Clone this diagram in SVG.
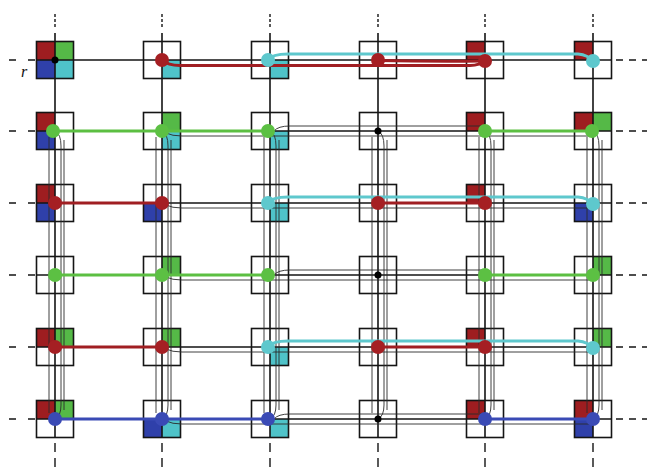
<svg xmlns="http://www.w3.org/2000/svg" width="647" height="468" viewBox="0 0 647 468">
<style>
.qr{fill:#9e1d20}.qg{fill:#55b947}.qb{fill:#2f40aa}.qc{fill:#4fc3c9}
.box{fill:none;stroke:#151515;stroke-width:1.6}
.main{stroke:#151515;stroke-width:1.6;fill:none}
.dash{stroke:#151515;stroke-width:1.6;fill:none;stroke-dasharray:7 6}
.ldash{stroke:#151515;stroke-width:1.6;fill:none;stroke-dasharray:7 12}
.vdash{stroke:#151515;stroke-width:1.4;fill:none;stroke-dasharray:3 2}
.bdash{stroke:#151515;stroke-width:1.4;fill:none;stroke-dasharray:9 6}
.thin{stroke:#2a2a2a;stroke-width:0.9;fill:none}
.cr{stroke:#a01e22;stroke-width:3;fill:none}
.cg{stroke:#5cbf42;stroke-width:3;fill:none}
.cc{stroke:#5ec8cd;stroke-width:3;fill:none}
.cb{stroke:#3a4ab5;stroke-width:3;fill:none}
.dr{fill:#a51f23}.dg{fill:#5cc043}.dc{fill:#5ec8cd}.db{fill:#3a4ab5}.dk{fill:#000}
.lbl{font-family:"Liberation Serif",serif;font-style:italic;font-size:16px;fill:#111}
</style>
<rect width="647" height="468" fill="#fff"/>
<g id="nodes">
<g id="n-1-1"><rect class="qr" x="36.5" y="41.5" width="18.5" height="18.5"/><rect class="qg" x="55" y="41.5" width="18.5" height="18.5"/><rect class="qb" x="36.5" y="60" width="18.5" height="18.5"/><rect class="qc" x="55" y="60" width="18.5" height="18.5"/><rect class="box" x="36.5" y="41.5" width="37" height="37"/></g>
<g id="n-1-2"><rect class="qc" x="162" y="60" width="18.5" height="18.5"/><rect class="box" x="143.5" y="41.5" width="37" height="37"/></g>
<g id="n-1-3"><rect class="qc" x="270" y="60" width="18.5" height="18.5"/><rect class="box" x="251.5" y="41.5" width="37" height="37"/></g>
<g id="n-1-4"><rect class="box" x="359.5" y="41.5" width="37" height="37"/></g>
<g id="n-1-5"><rect class="qr" x="466.5" y="41.5" width="18.5" height="18.5"/><rect class="box" x="466.5" y="41.5" width="37" height="37"/></g>
<g id="n-1-6"><rect class="qr" x="574.5" y="41.5" width="18.5" height="18.5"/><rect class="box" x="574.5" y="41.5" width="37" height="37"/></g>

<g id="n-2-1"><rect class="qr" x="36.5" y="112.5" width="18.5" height="18.5"/><rect class="qb" x="36.5" y="131" width="18.5" height="18.5"/><rect class="box" x="36.5" y="112.5" width="37" height="37"/></g>
<g id="n-2-2"><rect class="qg" x="162" y="112.5" width="18.5" height="18.5"/><rect class="qc" x="162" y="131" width="18.5" height="18.5"/><rect class="box" x="143.5" y="112.5" width="37" height="37"/></g>
<g id="n-2-3"><rect class="qc" x="270" y="131" width="18.5" height="18.5"/><rect class="box" x="251.5" y="112.5" width="37" height="37"/></g>
<g id="n-2-4"><rect class="box" x="359.5" y="112.5" width="37" height="37"/></g>
<g id="n-2-5"><rect class="qr" x="466.5" y="112.5" width="18.5" height="18.5"/><rect class="box" x="466.5" y="112.5" width="37" height="37"/></g>
<g id="n-2-6"><rect class="qr" x="574.5" y="112.5" width="18.5" height="18.5"/><rect class="qg" x="593" y="112.5" width="18.5" height="18.5"/><rect class="box" x="574.5" y="112.5" width="37" height="37"/></g>

<g id="n-3-1"><rect class="qr" x="36.5" y="184.5" width="18.5" height="18.5"/><rect class="qb" x="36.5" y="203" width="18.5" height="18.5"/><rect class="box" x="36.5" y="184.5" width="37" height="37"/></g>
<g id="n-3-2"><rect class="qb" x="143.5" y="203" width="18.5" height="18.5"/><rect class="box" x="143.5" y="184.5" width="37" height="37"/></g>
<g id="n-3-3"><rect class="qc" x="270" y="203" width="18.5" height="18.5"/><rect class="box" x="251.5" y="184.5" width="37" height="37"/></g>
<g id="n-3-4"><rect class="box" x="359.5" y="184.5" width="37" height="37"/></g>
<g id="n-3-5"><rect class="qr" x="466.5" y="184.5" width="18.5" height="18.5"/><rect class="box" x="466.5" y="184.5" width="37" height="37"/></g>
<g id="n-3-6"><rect class="qb" x="574.5" y="203" width="18.5" height="18.5"/><rect class="box" x="574.5" y="184.5" width="37" height="37"/></g>

<g id="n-4-1"><rect class="box" x="36.5" y="256.5" width="37" height="37"/></g>
<g id="n-4-2"><rect class="qg" x="162" y="256.5" width="18.5" height="18.5"/><rect class="box" x="143.5" y="256.5" width="37" height="37"/></g>
<g id="n-4-3"><rect class="box" x="251.5" y="256.5" width="37" height="37"/></g>
<g id="n-4-4"><rect class="box" x="359.5" y="256.5" width="37" height="37"/></g>
<g id="n-4-5"><rect class="box" x="466.5" y="256.5" width="37" height="37"/></g>
<g id="n-4-6"><rect class="qg" x="593" y="256.5" width="18.5" height="18.5"/><rect class="box" x="574.5" y="256.5" width="37" height="37"/></g>

<g id="n-5-1"><rect class="qr" x="36.5" y="328.5" width="18.5" height="18.5"/><rect class="qg" x="55" y="328.5" width="18.5" height="18.5"/><rect class="box" x="36.5" y="328.5" width="37" height="37"/></g>
<g id="n-5-2"><rect class="qg" x="162" y="328.5" width="18.5" height="18.5"/><rect class="box" x="143.5" y="328.5" width="37" height="37"/></g>
<g id="n-5-3"><rect class="qc" x="270" y="347" width="18.5" height="18.5"/><rect class="box" x="251.5" y="328.5" width="37" height="37"/></g>
<g id="n-5-4"><rect class="box" x="359.5" y="328.5" width="37" height="37"/></g>
<g id="n-5-5"><rect class="qr" x="466.5" y="328.5" width="18.5" height="18.5"/><rect class="box" x="466.5" y="328.5" width="37" height="37"/></g>
<g id="n-5-6"><rect class="qg" x="593" y="328.5" width="18.5" height="18.5"/><rect class="box" x="574.5" y="328.5" width="37" height="37"/></g>

<g id="n-6-1"><rect class="qr" x="36.5" y="400.5" width="18.5" height="18.5"/><rect class="qg" x="55" y="400.5" width="18.5" height="18.5"/><rect class="box" x="36.5" y="400.5" width="37" height="37"/></g>
<g id="n-6-2"><rect class="qb" x="143.5" y="419" width="18.5" height="18.5"/><rect class="qc" x="162" y="419" width="18.5" height="18.5"/><rect class="box" x="143.5" y="400.5" width="37" height="37"/></g>
<g id="n-6-3"><rect class="qc" x="270" y="419" width="18.5" height="18.5"/><rect class="box" x="251.5" y="400.5" width="37" height="37"/></g>
<g id="n-6-4"><rect class="box" x="359.5" y="400.5" width="37" height="37"/></g>
<g id="n-6-5"><rect class="qr" x="466.5" y="400.5" width="18.5" height="18.5"/><rect class="box" x="466.5" y="400.5" width="37" height="37"/></g>
<g id="n-6-6"><rect class="qr" x="574.5" y="400.5" width="18.5" height="18.5"/><rect class="qb" x="574.5" y="419" width="18.5" height="18.5"/><rect class="box" x="574.5" y="400.5" width="37" height="37"/></g>
</g>

<g id="connectors">
<g id="grid">
<path class="main" d="M36,60H612M36,131H612M36,203H612M36,275H612M36,347H612M36,419H612"/>
<path class="main" d="M55,33V438M162,33V438M270,33V438M378,33V438M485,33V438M593,33V438"/>
<path class="ldash" d="M9,60H36M9,131H36M9,203H36M9,275H36M9,347H36M9,419H36"/>
<path class="dash" d="M616,60H647M616,131H647M616,203H647M616,275H647M616,347H647M616,419H647"/>
<path class="vdash" d="M55,14V27M162,14V27M270,14V27M378,14V27M485,14V27M593,14V27"/>
<path class="bdash" d="M55,443V468M162,443V468M270,443V468M378,443V468M485,443V468M593,443V468"/>
</g>
<g id="thin">
<path class="thin" d="M166,133Q172,136 182,136L590,136M274,131Q278,126 290,126L482,126"/>
<path class="thin" d="M166,205Q172,208 182,208L590,208"/>
<path class="thin" d="M166,277Q172,280 182,280L590,280M274,275Q278,270 290,270L482,270"/>
<path class="thin" d="M166,349Q172,352 182,352L590,352"/>
<path class="thin" d="M166,421Q172,424 182,424L590,424M274,419Q278,414 290,414L482,414"/>
<path class="thin" d="M55,131Q61,134 61,146V405Q61,416 55,419M49,137V413M64,140V410"/>
<path class="thin" d="M162,131Q168,134 168,146V405Q168,416 162,419M156,137V413M171,140V410"/>
<path class="thin" d="M270,131Q276,134 276,146V405Q276,416 270,419M264,137V413M279,140V410"/>
<path class="thin" d="M378,131Q384,134 384,146V405Q384,416 378,419M372,137V413M387,140V410"/>
<path class="thin" d="M485,131Q491,134 491,146V405Q491,416 485,419M479,137V413M494,140V410"/>
<path class="thin" d="M593,131Q599,134 599,146V405Q599,416 593,419M587,137V413M602,140V410"/>
</g>
<g id="routes">
<path class="cr" d="M162,60Q168,65.5 180,65.5L470,65.5Q480,65.5 485,60"/>
<path class="cr" d="M378,60.5Q430,61.5 482,61"/>
<path class="cc" d="M268,60Q272,54 288,54L578,54Q588,55 593,61"/>
<path class="cg" d="M55,131H270M485,131H593"/>
<path class="cr" d="M55,203H162M378,203H485"/>
<path class="cc" d="M268,203Q272,197 288,197L578,197Q588,198 593,204"/>
<path class="cg" d="M55,275H270M485,275H593"/>
<path class="cr" d="M55,347H162M378,347H485"/>
<path class="cc" d="M268,347Q272,341 288,341L578,341Q588,342 593,348"/>
<path class="cb" d="M55,419H270M485,419H593"/>
</g>
</g>

<g id="dots">
<circle class="dk" cx="55" cy="60" r="3.5"/><circle class="dr" cx="162" cy="60" r="7"/><circle class="dc" cx="268" cy="60" r="7"/><circle class="dr" cx="378" cy="60" r="7"/><circle class="dr" cx="485" cy="61" r="7"/><circle class="dc" cx="593" cy="61" r="7"/>
<circle class="dg" cx="53" cy="131" r="7"/><circle class="dg" cx="162" cy="131" r="7"/><circle class="dg" cx="268" cy="131" r="7"/><circle class="dk" cx="378" cy="131" r="3.5"/><circle class="dg" cx="485" cy="131" r="7"/><circle class="dg" cx="592" cy="131" r="7"/>
<circle class="dr" cx="55" cy="203" r="7"/><circle class="dr" cx="162" cy="203" r="7"/><circle class="dc" cx="268" cy="203" r="7"/><circle class="dr" cx="378" cy="203" r="7"/><circle class="dr" cx="485" cy="203" r="7"/><circle class="dc" cx="593" cy="204" r="7"/>
<circle class="dg" cx="55" cy="275" r="7"/><circle class="dg" cx="162" cy="275" r="7"/><circle class="dg" cx="268" cy="275" r="7"/><circle class="dk" cx="378" cy="275" r="3.5"/><circle class="dg" cx="485" cy="275" r="7"/><circle class="dg" cx="593" cy="275" r="7"/>
<circle class="dr" cx="55" cy="347" r="7"/><circle class="dr" cx="162" cy="347" r="7"/><circle class="dc" cx="268" cy="347" r="7"/><circle class="dr" cx="378" cy="347" r="7"/><circle class="dr" cx="485" cy="347" r="7"/><circle class="dc" cx="593" cy="348" r="7"/>
<circle class="db" cx="55" cy="419" r="7"/><circle class="db" cx="162" cy="419" r="7"/><circle class="db" cx="268" cy="419" r="7"/><circle class="dk" cx="378" cy="419" r="3.5"/><circle class="db" cx="485" cy="419" r="7"/><circle class="db" cx="593" cy="419" r="7"/>
</g>
<text class="lbl" x="21" y="77">r</text>
</svg>
